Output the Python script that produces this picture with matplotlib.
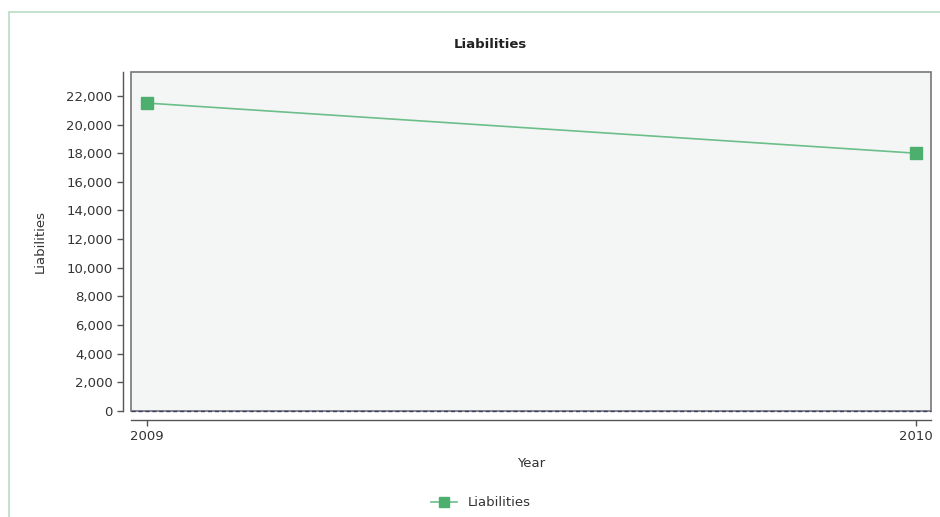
import matplotlib
matplotlib.use("Agg")
import matplotlib.pyplot as plt
from matplotlib.patches import Rectangle
from matplotlib.ticker import FuncFormatter

# data
years = [2009, 2010]
liabilities = [21500, 18000]
y_ticks = list(range(0, 22001, 2000))

line_col = "#6cbf8a"
marker_col = "#4caf6e"

fig = plt.figure(figsize=(9.4, 5.17), dpi=100)
fig.patch.set_facecolor("white")

# outer panel border (light green)
fig.patches.append(Rectangle((9 / 940, -0.1), 1.2, 1.1 - 12 / 517, transform=fig.transFigure,
                             fill=False, edgecolor="#b9dcc4", linewidth=1.2))

ax = fig.add_axes([131 / 940, 1 - 411 / 517, 800 / 940, 339 / 517])
ax.set_facecolor("#f4f6f5")

ax.plot(years, liabilities, color=line_col, linewidth=1.2, marker="s", markersize=8,
        markerfacecolor=marker_col, markeredgecolor=marker_col, label="Liabilities", zorder=3)

ax.set_xlim(2009 - 0.0208, 2010 + 0.0195)
ax.set_ylim(0, 23670)
ax.set_xticks(years)
ax.set_xticklabels([str(y) for y in years])
ax.set_yticks(y_ticks)
ax.yaxis.set_major_formatter(FuncFormatter(lambda v, p: f"{int(v):,}"))

for s in ["top", "right"]:
    ax.spines[s].set_visible(False)
ax.spines["left"].set_position(("outward", 5.8))
ax.spines["bottom"].set_position(("outward", 6.5))
for s in ["left", "bottom"]:
    ax.spines[s].set_color("#555555")
    ax.spines[s].set_linewidth(1.0)
# frame around plot area
ax.add_patch(Rectangle((0, 0), 1, 1, transform=ax.transAxes, fill=False,
                       edgecolor="#777777", linewidth=1.2, zorder=4, clip_on=False))
# dashed zero line on the bottom edge
ax.axhline(0, color="#3a3f6a", linewidth=1.0, linestyle=(0, (3, 2)), zorder=6, clip_on=False)

ax.tick_params(axis="both", colors="#555555", labelcolor="#333333", labelsize=9.5,
               length=4, width=1)

ax.set_xlabel("Year", fontsize=9.5, color="#333333", labelpad=10)
ax.set_ylabel("Liabilities", fontsize=9.5, color="#333333", labelpad=14)

fig.text(490 / 940, 1 - 45 / 517, "Liabilities", ha="center", va="center",
         fontsize=9.5, fontweight="semibold", color="#222222")

fig.legend(loc="center", bbox_to_anchor=(481 / 940, 1 - 503 / 517), frameon=False,
           fontsize=9.5, handlelength=2.0, markerscale=0.9, labelcolor="#333333")

fig.savefig("out.png", dpi=100)
